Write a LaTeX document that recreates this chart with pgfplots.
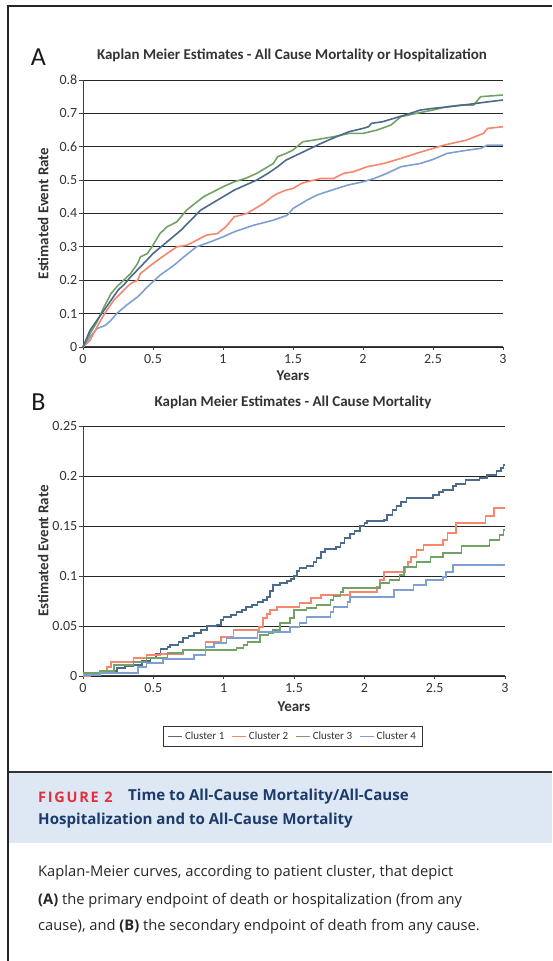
\documentclass[border=0pt]{standalone}
\usepackage{fontspec}
\setmainfont{Carlito}
\newfontfamily\capfont{Open Sans}
\usepackage{pgfplots}
\pgfplotsset{compat=1.18}
\definecolor{cone}{HTML}{4B6A8C}
\definecolor{ctwo}{HTML}{F4876E}
\definecolor{cthree}{HTML}{72A265}
\definecolor{cfour}{HTML}{7F9FD3}
\definecolor{capblue}{HTML}{DDE8F4}
\definecolor{capnavy}{HTML}{1C3A6A}
\definecolor{capred}{HTML}{E2303C}
\definecolor{txt}{HTML}{333333}

\pgfplotstableread{
t v
0 0
0.03 0.03
0.05 0.05
0.1 0.08
0.15 0.11
0.2 0.14
0.25 0.17
0.3 0.19
0.34 0.21
0.41 0.24
0.5 0.28
0.6 0.315
0.7 0.35
0.77 0.38
0.84 0.41
0.92 0.43
1.0 0.45
1.08 0.47
1.16 0.485
1.24 0.50
1.32 0.52
1.39 0.54
1.45 0.56
1.5 0.57
1.55 0.58
1.6 0.59
1.7 0.61
1.81 0.63
1.9 0.645
2.0 0.655
2.04 0.66
2.06 0.67
2.14 0.675
2.22 0.685
2.3 0.695
2.41 0.71
2.5 0.715
2.62 0.72
2.72 0.725
2.81 0.73
2.9 0.735
3.0 0.74
}\Aone
\pgfplotstableread{
t v
0 0
0.05 0.02
0.1 0.06
0.14 0.09
0.17 0.11
0.22 0.14
0.29 0.17
0.34 0.19
0.39 0.20
0.41 0.22
0.5 0.25
0.6 0.28
0.67 0.30
0.74 0.305
0.79 0.315
0.88 0.335
0.96 0.34
1.02 0.36
1.08 0.39
1.17 0.40
1.25 0.42
1.29 0.43
1.35 0.45
1.39 0.46
1.45 0.47
1.5 0.475
1.56 0.49
1.6 0.495
1.7 0.505
1.79 0.505
1.86 0.52
1.93 0.525
2.03 0.54
2.15 0.55
2.27 0.565
2.38 0.58
2.46 0.59
2.58 0.605
2.74 0.62
2.86 0.64
2.89 0.655
3.0 0.66
}\Atwo
\pgfplotstableread{
t v
0 0
0.05 0.04
0.1 0.075
0.15 0.12
0.2 0.16
0.24 0.18
0.29 0.20
0.34 0.22
0.39 0.25
0.41 0.27
0.46 0.28
0.5 0.305
0.55 0.34
0.6 0.36
0.67 0.375
0.74 0.41
0.8 0.43
0.86 0.45
0.93 0.465
1.0 0.48
1.08 0.495
1.16 0.505
1.24 0.52
1.3 0.535
1.36 0.55
1.39 0.57
1.45 0.58
1.5 0.59
1.57 0.615
1.65 0.62
1.79 0.63
1.9 0.64
2.0 0.64
2.1 0.65
2.2 0.665
2.27 0.69
2.38 0.70
2.5 0.71
2.6 0.72
2.7 0.725
2.79 0.725
2.84 0.75
3.0 0.755
}\Athree
\pgfplotstableread{
t v
0 0
0.05 0.03
0.1 0.055
0.16 0.065
0.2 0.08
0.24 0.10
0.31 0.125
0.39 0.15
0.46 0.18
0.55 0.215
0.65 0.245
0.72 0.27
0.81 0.30
0.91 0.315
1.0 0.33
1.08 0.345
1.22 0.365
1.36 0.38
1.46 0.395
1.5 0.415
1.6 0.44
1.67 0.455
1.74 0.465
1.89 0.485
2.0 0.495
2.08 0.505
2.17 0.52
2.27 0.54
2.41 0.55
2.5 0.562
2.6 0.58
2.75 0.59
2.84 0.595
2.89 0.605
3.0 0.605
}\Afour

\pgfplotstableread{
t v
0 0.002
0.12 0.003
0.19 0.005
0.24 0.008
0.3 0.010
0.36 0.011
0.42 0.015
0.48 0.018
0.52 0.022
0.55 0.027
0.6 0.029
0.62 0.031
0.68 0.034
0.71 0.038
0.75 0.040
0.79 0.043
0.84 0.046
0.88 0.05
0.95 0.051
0.98 0.056
1.0 0.059
1.05 0.061
1.09 0.064
1.13 0.066
1.16 0.069
1.2 0.071
1.24 0.074
1.28 0.076
1.31 0.079
1.33 0.085
1.35 0.091
1.4 0.093
1.45 0.095
1.48 0.097
1.5 0.10
1.52 0.105
1.54 0.108
1.59 0.110
1.64 0.114
1.66 0.118
1.69 0.124
1.72 0.127
1.8 0.129
1.83 0.133
1.86 0.138
1.9 0.142
1.93 0.145
1.97 0.15
2.0 0.153
2.02 0.155
2.14 0.156
2.16 0.161
2.2 0.166
2.23 0.17
2.26 0.174
2.3 0.178
2.45 0.178
2.49 0.181
2.53 0.184
2.56 0.186
2.63 0.19
2.65 0.192
2.72 0.196
2.82 0.198
2.87 0.201
2.94 0.205
2.97 0.208
2.99 0.211
3.0 0.211
}\Bone
\pgfplotstableread{
t v
0 0
0.05 0.002
0.12 0.004
0.17 0.009
0.2 0.014
0.36 0.018
0.45 0.021
0.55 0.022
0.71 0.026
0.87 0.034
0.98 0.039
1.07 0.046
1.25 0.049
1.28 0.058
1.31 0.062
1.33 0.066
1.38 0.069
1.54 0.073
1.62 0.078
1.69 0.081
1.9 0.084
2.09 0.089
2.11 0.096
2.14 0.104
2.29 0.109
2.31 0.114
2.33 0.119
2.37 0.126
2.42 0.131
2.56 0.136
2.59 0.143
2.65 0.153
2.86 0.16
2.92 0.168
3.0 0.168
}\Btwo
\pgfplotstableread{
t v
0 0.003
0.12 0.005
0.22 0.011
0.36 0.014
0.45 0.018
0.6 0.023
0.71 0.026
1.09 0.028
1.14 0.031
1.17 0.034
1.26 0.041
1.32 0.043
1.35 0.046
1.4 0.053
1.47 0.058
1.5 0.066
1.59 0.068
1.66 0.071
1.76 0.076
1.78 0.08
1.83 0.084
1.85 0.088
2.11 0.093
2.18 0.096
2.25 0.101
2.28 0.109
2.37 0.114
2.47 0.119
2.56 0.123
2.69 0.13
2.89 0.136
2.96 0.141
2.99 0.146
3.0 0.146
}\Bthree
\pgfplotstableread{
t v
0 0.001
0.12 0.003
0.39 0.009
0.45 0.013
0.57 0.017
0.79 0.021
0.87 0.029
0.93 0.033
1.02 0.038
1.24 0.044
1.47 0.049
1.54 0.053
1.59 0.059
1.76 0.064
1.78 0.069
1.88 0.074
1.9 0.079
2.21 0.086
2.35 0.091
2.44 0.096
2.56 0.099
2.58 0.104
2.63 0.111
3.0 0.111
}\Bfour

\pgfplotsset{
  kmaxis/.style={
    anchor=south west, scale only axis,
    xmin=0, xmax=3,
    axis x line*=bottom, axis y line*=left,
    axis line style={-, line width=1pt, black!75},
    xtick={0,0.5,1,1.5,2,2.5,3},
    xticklabels={0,0.5,1,1.5,2,2.5,3},
    tick align=outside, major tick length=3.5pt,
    tick style={black!75, line width=0.8pt},
    ymajorgrids, grid style={black!85, line width=0.9pt},
    ticklabel style={font=\fontsize{14}{14}\selectfont, text=txt},
    yticklabel style={inner xsep=2pt},
    label style={font=\bfseries\fontsize{15}{15}\selectfont, text=txt},
    title style={font=\bfseries\fontsize{15}{16}\selectfont, text=txt, anchor=center},
    clip=false,
  },
}

\begin{document}
\begin{tikzpicture}[x=1pt,y=1pt]
\path[use as bounding box] (0,0) rectangle (552,961);
\fill[capblue] (9,118) rectangle (552,188);
\draw[line width=1.3pt, black!80] (8,189) -- (552,189);
\draw[line width=2pt, black!85] (8,0) -- (8,955) -- (552,955);

\node[font=\fontsize{26}{26}\selectfont, text=black!90] at (38.5,904) {A};
\node[font=\fontsize{26}{26}\selectfont, text=black!90] at (38.5,559) {B};

\begin{axis}[kmaxis, at={(83pt,614pt)}, width=420pt, height=267pt,
  ymin=0, ymax=0.8,
  ytick={0,0.1,0.2,0.3,0.4,0.5,0.6,0.7,0.8},
  yticklabels={0,0.1,0.2,0.3,0.4,0.5,0.6,0.7,0.8},
  title={Kaplan Meier Estimates - All Cause Mortality or Hospitalization},
  title style={at={(axis description cs:0.4976,1.071)}},
  xlabel={Years}, xlabel style={at={(axis description cs:0.5,-0.1086)}, anchor=center},
  ylabel={Estimated Event Rate}, ylabel style={at={(axis description cs:-0.095,0.5)}, anchor=center},
]
\addplot[cfour, line width=1.6pt] table {\Afour};
\addplot[ctwo, line width=1.6pt] table {\Atwo};
\addplot[cthree, line width=1.6pt] table {\Athree};
\addplot[cone, line width=1.6pt] table {\Aone};
\end{axis}

\begin{axis}[kmaxis, at={(83pt,285pt)}, width=422pt, height=250pt,
  ymin=0, ymax=0.25,
  ytick={0,0.05,0.1,0.15,0.2,0.25},
  yticklabels={0,0.05,0.1,0.15,0.2,0.25},
  title={Kaplan Meier Estimates - All Cause Mortality},
  title style={at={(axis description cs:0.4976,1.072)}},
  xlabel={Years}, xlabel style={at={(axis description cs:0.5,-0.124)}, anchor=center},
  ylabel={Estimated Event Rate}, ylabel style={at={(axis description cs:-0.0945,0.5)}, anchor=center},
  legend style={at={(axis description cs:0.497,-0.242)}, anchor=center,
    legend columns=4, draw=black!80, line width=1pt,
    font=\fontsize{11}{11}\selectfont, text=txt,
    inner xsep=4pt, inner ysep=3pt,
    /tikz/every even column/.append style={column sep=5pt}},
  legend image code/.code={\draw[#1, line width=1.6pt] (0pt,0pt) -- (14pt,0pt);},
]
\addplot[cone, line width=1.6pt, const plot] table {\Bone};
\addplot[ctwo, line width=1.6pt, const plot] table {\Btwo};
\addplot[cthree, line width=1.6pt, const plot] table {\Bthree};
\addplot[cfour, line width=1.6pt, const plot] table {\Bfour};
\legend{Cluster 1, Cluster 2, Cluster 3, Cluster 4}
\end{axis}

\node[anchor=west, inner sep=0pt, text=capred, font=\capfont\bfseries\fontsize{14.5}{14.5}\selectfont\addfontfeatures{LetterSpace=12}] at (38,164) {FIGURE 2};
\node[anchor=west, inner sep=0pt, text=capnavy, font=\capfont\bfseries\fontsize{15.1}{15.1}\selectfont] at (128,164) {Time to All-Cause Mortality/All-Cause};
\node[anchor=west, inner sep=0pt, text=capnavy, font=\capfont\bfseries\fontsize{15.1}{15.1}\selectfont] at (38,140) {Hospitalization and to All-Cause Mortality};
\node[anchor=west, inner sep=0pt, text=black!85, font=\capfont\fontsize{14.7}{14.7}\selectfont] at (38,88) {Kaplan-Meier curves, according to patient cluster, that depict};
\node[anchor=west, inner sep=0pt, text=black!85, font=\capfont\fontsize{14.7}{14.7}\selectfont] at (38,60) {\textbf{(A)} the primary endpoint of death or hospitalization (from any};
\node[anchor=west, inner sep=0pt, text=black!85, font=\capfont\fontsize{14.7}{14.7}\selectfont] at (38,34) {cause), and \textbf{(B)} the secondary endpoint of death from any cause.};
\end{tikzpicture}
\end{document}
